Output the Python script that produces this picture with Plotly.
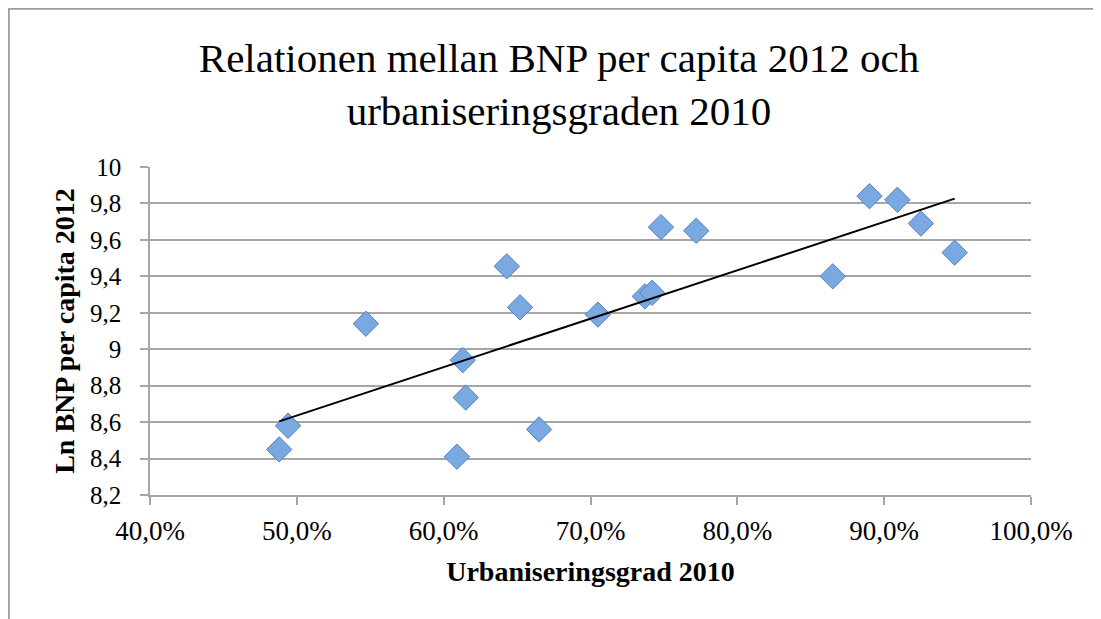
import numpy as np
import plotly.graph_objects as go

# Data
urbanisering = [0.488, 0.494, 0.547, 0.609, 0.613, 0.615, 0.643, 0.652, 0.665, 0.705,
                0.737, 0.742, 0.748, 0.772, 0.865, 0.890, 0.909, 0.925, 0.948]
ln_bnp = [8.45, 8.58, 9.14, 8.41, 8.94, 8.735, 9.455, 9.23, 8.56, 9.19,
          9.29, 9.31, 9.67, 9.65, 9.40, 9.84, 9.82, 9.69, 9.53]

title_text = "Relationen mellan BNP per capita 2012 och<br>urbaniseringsgraden 2010"
x_title = "Urbaniseringsgrad 2010"
y_title = "Ln BNP per capita 2012"

# Linear trendline (least squares) over the data's x extent
slope, intercept = np.polyfit(urbanisering, ln_bnp, 1)
trend_x = [min(urbanisering), max(urbanisering)]
trend_y = [slope * v + intercept for v in trend_x]

SERIF = "Liberation Serif"
GRID = "#a6a6a6"
W, H = 1101, 619
ML, MR, MT, MB = 142, 78, 159, 132
PW, PH = W - ML - MR, H - MT - MB

fig = go.Figure()
fig.add_trace(go.Scatter(
    x=urbanisering, y=ln_bnp, mode="markers",
    marker=dict(symbol="diamond", size=19.5, color="#7AA8E0",
                line=dict(color="#5282C2", width=1)),
    showlegend=False, hoverinfo="x+y",
))
fig.add_trace(go.Scatter(
    x=trend_x, y=trend_y, mode="lines",
    line=dict(color="black", width=2), showlegend=False, hoverinfo="skip",
))

fig.update_layout(
    width=W, height=H,
    paper_bgcolor="white", plot_bgcolor="white",
    separators=", ",
    margin=dict(l=ML, r=MR, t=MT, b=MB, autoexpand=False),
    font=dict(family=SERIF, size=24, color="black"),
    title=dict(text=title_text, x=551 / W, xref="container", xanchor="center",
               y=1 - 64 / H, yref="container", yanchor="middle",
               font=dict(family=SERIF, size=41, color="black")),
    xaxis=dict(range=[0.4, 1.0], dtick=0.1, tick0=0.4, tickformat=".1%",
               showgrid=False, zeroline=False,
               showline=True, linecolor=GRID, linewidth=1.5,
               ticks="outside", ticklen=8, tickcolor=GRID, tickwidth=1.5,
               ticklabelstandoff=3,
               tickfont=dict(family=SERIF, size=27),
               title=dict(text="<b>" + x_title + "</b>", standoff=16,
                          font=dict(family=SERIF, size=28))),
    yaxis=dict(range=[8.2, 10.0], dtick=0.2, tick0=8.2,
               showgrid=True, gridcolor=GRID, gridwidth=1.5, zeroline=False,
               showline=True, linecolor=GRID, linewidth=1.5,
               ticks="outside", ticklen=8, tickcolor=GRID, tickwidth=1.5,
               ticklabelstandoff=14,
               tickfont=dict(family=SERIF, size=25),
               title=dict(text="<b>" + y_title + "</b>", standoff=7,
                          font=dict(family=SERIF, size=28))),
)

# Outer chart frame (top and left edges visible in the reference)
top_y = 1 + (MT - 0.5) / PH
left_x = (0.5 - ML) / PW
fig.add_shape(type="line", xref="paper", yref="paper",
              x0=left_x, x1=(W - ML) / PW, y0=top_y, y1=top_y,
              line=dict(color="#9a9a9a", width=2.5))
fig.add_shape(type="line", xref="paper", yref="paper",
              x0=left_x, x1=left_x, y0=top_y, y1=-MB / PH,
              line=dict(color="#9a9a9a", width=2.5))

fig.write_html("out.html")
